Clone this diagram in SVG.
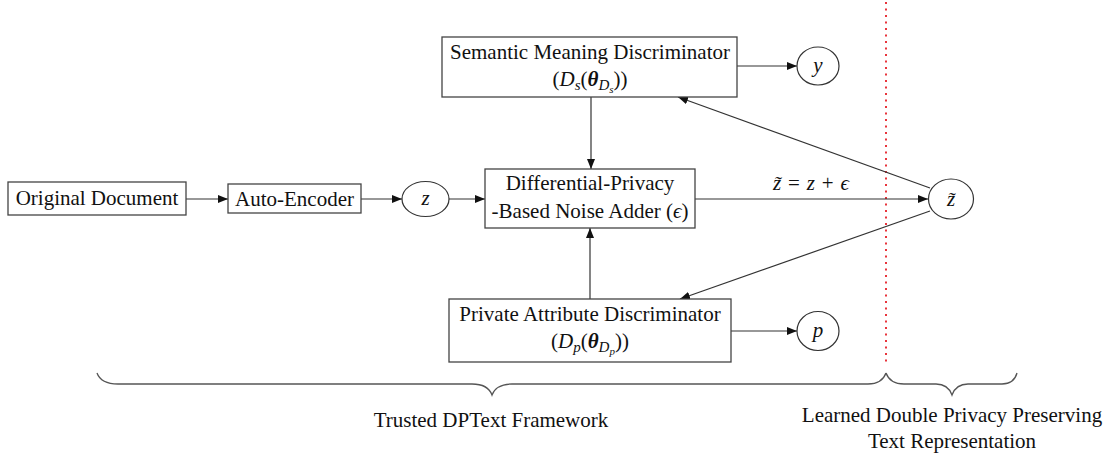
<svg xmlns="http://www.w3.org/2000/svg" width="1110" height="461" viewBox="0 0 1110 461">
<style>
  text { font-family: "Liberation Serif", "DejaVu Serif", serif; font-size: 21px; fill: #111; }
  .c { text-anchor: middle; }
  .m { font-style: italic; }
  .b { font-weight: bold; }
  .box { fill: #fff; stroke: #444; stroke-width: 1.3; }
  .ell { fill: #fff; stroke: #333; stroke-width: 1.2; }
  .ln { fill: none; stroke: #333; stroke-width: 1.2; }
  .br { fill: none; stroke: #555; stroke-width: 1.3; }
</style>
<defs>
  <marker id="ah" viewBox="0 0 10 8" refX="10" refY="4" markerWidth="10" markerHeight="8" markerUnits="userSpaceOnUse" orient="auto">
    <path d="M0,0 L10,4 L0,8 Z" fill="#111"/>
  </marker>
</defs>

<line x1="886" y1="2" x2="886" y2="362" stroke="#e8343c" stroke-width="2" stroke-dasharray="2 4.5"/>

<g id="connectors">
  <path class="ln" d="M186,199 H228" marker-end="url(#ah)"/>
  <path class="ln" d="M361,199 H402" marker-end="url(#ah)"/>
  <path class="ln" d="M449,199 H485" marker-end="url(#ah)"/>
  <path class="ln" d="M695,199 H928" marker-end="url(#ah)"/>
  <path class="ln" d="M591,97 V169" marker-end="url(#ah)"/>
  <path class="ln" d="M590,299 V228" marker-end="url(#ah)"/>
  <path class="ln" d="M737,66 H797" marker-end="url(#ah)"/>
  <path class="ln" d="M731,331 H797" marker-end="url(#ah)"/>
  <path class="ln" d="M930,188 L678,97" marker-end="url(#ah)"/>
  <path class="ln" d="M930,211 L680,299" marker-end="url(#ah)"/>
  <text class="m" x="773" y="190" textLength="76" lengthAdjust="spacing">z̃ <tspan font-style="normal">=</tspan> z <tspan font-style="normal">+</tspan> ϵ</text>
</g>

<g id="orig">
  <rect class="box" x="8" y="182" width="178" height="33"/>
  <text class="c" x="97" y="205">Original Document</text>
</g>
<g id="ae">
  <rect class="box" x="228" y="184" width="133" height="29"/>
  <text class="c" x="294.5" y="206">Auto-Encoder</text>
</g>
<g id="z">
  <ellipse class="ell" cx="425.5" cy="199" rx="23.5" ry="17.5"/>
  <text class="c m" x="425.5" y="205">z</text>
</g>
<g id="noise">
  <rect class="box" x="485" y="169" width="210" height="59"/>
  <text class="c" x="590" y="190">Differential-Privacy</text>
  <text class="c" x="590" y="218">-Based Noise Adder (<tspan class="m">ϵ</tspan>)</text>
</g>
<g id="semantic">
  <rect class="box" x="442" y="37" width="295" height="60"/>
  <text class="c" x="590" y="59">Semantic Meaning Discriminator</text>
  <text class="c" x="590" y="86">(<tspan class="m">D</tspan><tspan class="m" font-size="15" dy="4">s</tspan><tspan dy="-4">(</tspan><tspan class="m b">θ</tspan><tspan class="m" font-size="15" dy="4">D</tspan><tspan class="m" font-size="11" dy="3">s</tspan><tspan dy="-7">))</tspan></text>
</g>
<g id="ynode">
  <ellipse class="ell" cx="818" cy="66" rx="21" ry="19"/>
  <text class="c m" x="818" y="72">y</text>
</g>
<g id="ztilde">
  <ellipse class="ell" cx="951" cy="199" rx="22.5" ry="20"/>
  <text class="c m" x="951" y="206">z̃</text>
</g>
<g id="private">
  <rect class="box" x="449" y="299" width="282" height="63"/>
  <text class="c" x="590" y="321">Private Attribute Discriminator</text>
  <text class="c" x="590" y="348">(<tspan class="m">D</tspan><tspan class="m" font-size="15" dy="4">p</tspan><tspan dy="-4">(</tspan><tspan class="m b">θ</tspan><tspan class="m" font-size="15" dy="4">D</tspan><tspan class="m" font-size="11" dy="3">p</tspan><tspan dy="-7">))</tspan></text>
</g>
<g id="pnode">
  <ellipse class="ell" cx="818" cy="331" rx="21" ry="19.5"/>
  <text class="c m" x="818" y="337">p</text>
</g>

<g id="braces">
  <path class="br" d="M97,373 Q101,384 118,384 H472 Q488,384 492,395 Q496,384 512,384 H868 Q882,384 886,373"/>
  <path class="br" d="M886,373 Q890,384 904,384 H936 Q948,384 952,395 Q956,384 968,384 H1002 Q1014,384 1017,373"/>
  <text class="c" x="491" y="427">Trusted DPText Framework</text>
  <text class="c" x="952" y="422">Learned Double Privacy Preserving</text>
  <text class="c" x="952" y="448">Text Representation</text>
</g>
</svg>
